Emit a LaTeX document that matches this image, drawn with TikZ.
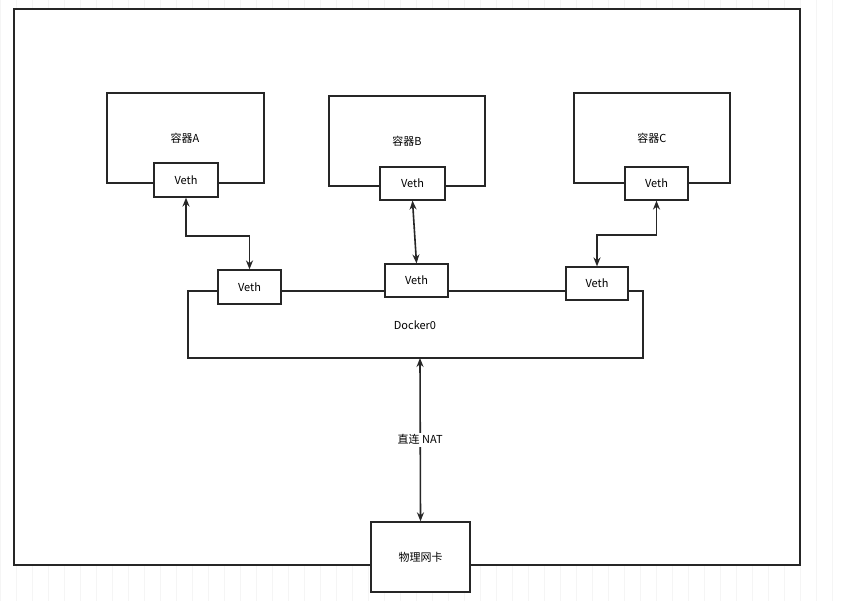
\documentclass[tikz,border=0pt]{standalone}
\usepackage{fontspec}
\setmainfont{Noto Sans CJK SC}
\usetikzlibrary{arrows.meta}
\begin{document}
\begin{tikzpicture}[x=1pt,y=-1pt,
  box/.style={draw=black!85,line width=1.3pt},
  veth/.style={draw=black!85,line width=1.2pt,fill=white,font=\fontsize{11}{12}\selectfont},
  lbl/.style={font=\fontsize{11}{12}\selectfont},
  conn/.style={line width=1.6pt,draw=black!85,{Stealth[length=9pt,width=7pt]}-{Stealth[length=9pt,width=7pt]}}]
\useasboundingbox (0,0) rectangle (841,601);
\fill[white] (0,0) rectangle (841,601);
\draw[black!4,step=16,line width=0.5pt] (0,0) grid (841,601);
\draw[box,fill=white,line width=1.6pt] (14,9) rectangle (800,565);
% containers
\draw[box] (107,93) rectangle (264,183);
\node[lbl] (ca) at (185,138) {容器A};
\draw[box] (329,96) rectangle (485,186);
\node[lbl] (cb) at (407,141) {容器B};
\draw[box] (574,93) rectangle (730,183);
\node[lbl] (cc) at (652,138) {容器C};
\node[veth,minimum width=64,minimum height=34] (va) at (186,180) {Veth};
\node[veth,minimum width=65,minimum height=33] (vb) at (412.5,183.5) {Veth};
\node[veth,minimum width=63,minimum height=33] (vc) at (656.5,183.5) {Veth};
% docker0
\draw[box] (188,291) rectangle (643,358);
\node[lbl] (d0) at (415,325) {Docker0};
\node[veth,minimum width=63,minimum height=34] (v1) at (249.5,287) {Veth};
\node[veth,minimum width=63,minimum height=33] (v2) at (416.5,280.5) {Veth};
\node[veth,minimum width=62,minimum height=33] (v3) at (597,283.5) {Veth};
\coordinate (dbot) at (420,358);
% nic
\node[box,fill=white,minimum width=99,minimum height=70,lbl] (nic) at (420.5,557) {物理网卡};
% connectors
\draw[conn] (va.south) -- (va.south |- 0,236) -- (v1.north |- 0,236) -- (v1.north);
\draw[conn] (vb.south) -- (v2.north);
\draw[conn] (vc.south) -- (vc.south |- 0,235) -- (v3.north |- 0,235) -- (v3.north);
\draw[conn] (dbot) -- node[fill=white,lbl,inner sep=2pt] (nat) {直连 NAT} (nic.north);
\end{tikzpicture}
\end{document}
